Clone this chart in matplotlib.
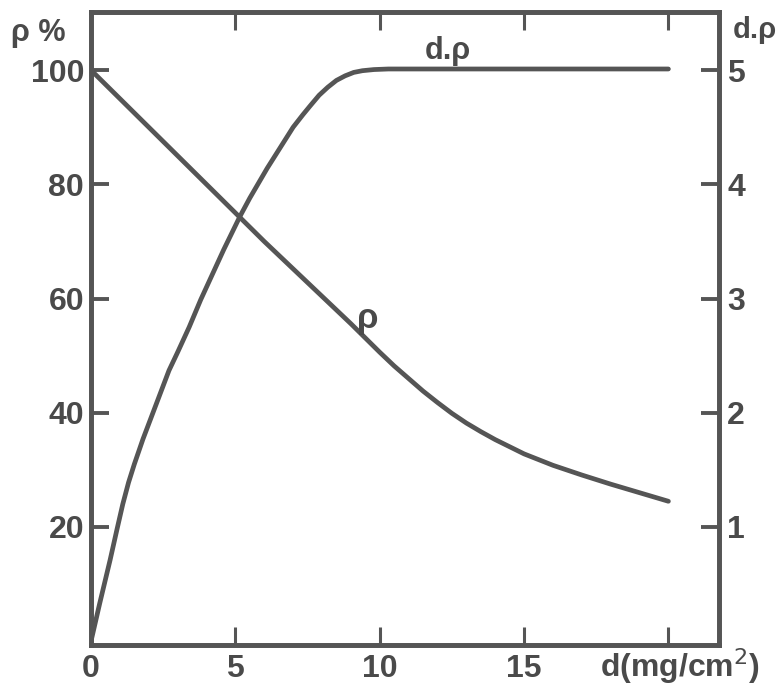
import numpy as np
import matplotlib.pyplot as plt

plt.rcParams["font.family"] = ['Liberation Sans', 'DejaVu Sans']

# ============================
# Data
# ============================
# rho (%) vs thickness d (mg/cm^2), left axis
d_rho = [0, 2, 4, 6, 7, 8, 8.5, 9, 9.5, 10, 10.5, 11, 11.5, 12, 12.5, 13, 13.5, 14,
         15, 16, 17, 18, 19, 20]
rho = [100, 90, 80, 70, 65.2, 60.4, 58.0, 55.6, 53.1, 50.6, 48.2, 46.0, 43.8, 41.8,
       39.9, 38.2, 36.7, 35.3, 32.8, 30.8, 29.1, 27.5, 26.0, 24.5]

# d.rho vs thickness d, right axis
d_drho = [0, 0.3, 0.66, 0.9, 1.1, 1.3, 1.5, 1.8, 2.1, 2.4, 2.7, 3.0, 3.4, 3.8, 4.2, 4.6,
          5.16, 5.5, 5.8, 6.1, 6.4, 6.7, 7.0, 7.34, 7.6, 7.9, 8.2, 8.5, 8.8, 9.1, 9.4,
          9.8, 10.3, 11, 20]
drho = [0, 0.33, 0.71, 0.98, 1.20, 1.39, 1.55, 1.77, 1.97, 2.17, 2.37, 2.53, 2.75, 2.99,
        3.21, 3.43, 3.72, 3.88, 4.01, 4.14, 4.26, 4.38, 4.50, 4.61, 4.69, 4.78, 4.85,
        4.91, 4.95, 4.98, 4.995, 5.005, 5.01, 5.01, 5.01]

x_ticks = [0, 5, 10, 15, 20]
x_tick_labels = ['0', '5', '10', '15', '']
left_ticks = [20, 40, 60, 80, 100]
left_tick_labels = ['20', '40', '60', '80', '100']
right_ticks = [1, 2, 3, 4, 5]
right_tick_labels = ['1', '2', '3', '4', '5']

INK = '#555555'
TXT = '#4a4a4a'
LW = 3.4

fig = plt.figure(figsize=(7.8, 6.99), dpi=100)
ax = fig.add_axes([0.1167, 0.077, 0.805, 0.906])
ax2 = ax.twinx()

YLO, YHI = -0.7, 110.2
ax.set_xlim(0, 21.75)
ax.set_ylim(YLO, YHI)
ax2.set_ylim(YLO / 20, YHI / 20)

ax.plot(d_rho, rho, color=INK, lw=LW, solid_capstyle='round', solid_joinstyle='round')
ax2.plot(d_drho, drho, color=INK, lw=LW, solid_capstyle='round', solid_joinstyle='round')

for a in (ax, ax2):
    for s in a.spines.values():
        s.set_linewidth(3.4)
        s.set_color(INK)

ax.set_xticks(x_ticks)
ax.set_xticklabels(x_tick_labels)
ax.set_yticks(left_ticks)
ax.set_yticklabels(left_tick_labels)
ax2.set_yticks(right_ticks)
ax2.set_yticklabels(right_tick_labels)

FS = 23
ax.tick_params(axis='x', direction='in', length=13, width=2.2, color=INK,
               top=True, labelsize=FS, labelcolor=TXT, pad=6)
ax.tick_params(axis='y', direction='in', length=13, width=2.8, color=INK,
               labelsize=FS, labelcolor=TXT, pad=5)
ax2.tick_params(axis='y', direction='in', length=13, width=2.8, color=INK,
                labelsize=FS, labelcolor=TXT, pad=6)
for lab in ax.get_xticklabels() + ax.get_yticklabels() + ax2.get_yticklabels():
    lab.set_fontweight('bold')

# axis titles and curve labels
fig.text(0.049, 0.953, 'ρ %', fontsize=22, fontweight='bold', color=TXT,
         ha='center', va='center')
fig.text(0.968, 0.957, 'd.ρ', fontsize=21, fontweight='bold', color=TXT,
         ha='center', va='center')
ax.text(20.4, -4.4, 'd(mg/cm$^2$)', fontsize=FS, fontweight='bold', color=TXT,
        ha='center', va='center', clip_on=False)
ax.text(12.35, 103.4, 'd.ρ', fontsize=22, fontweight='bold', color=TXT,
        ha='center', va='center')
ax.text(9.6, 56.5, 'ρ', fontsize=25, fontweight='bold', color=TXT,
        ha='center', va='center')

fig.savefig('out.png', dpi=100, facecolor='white')
